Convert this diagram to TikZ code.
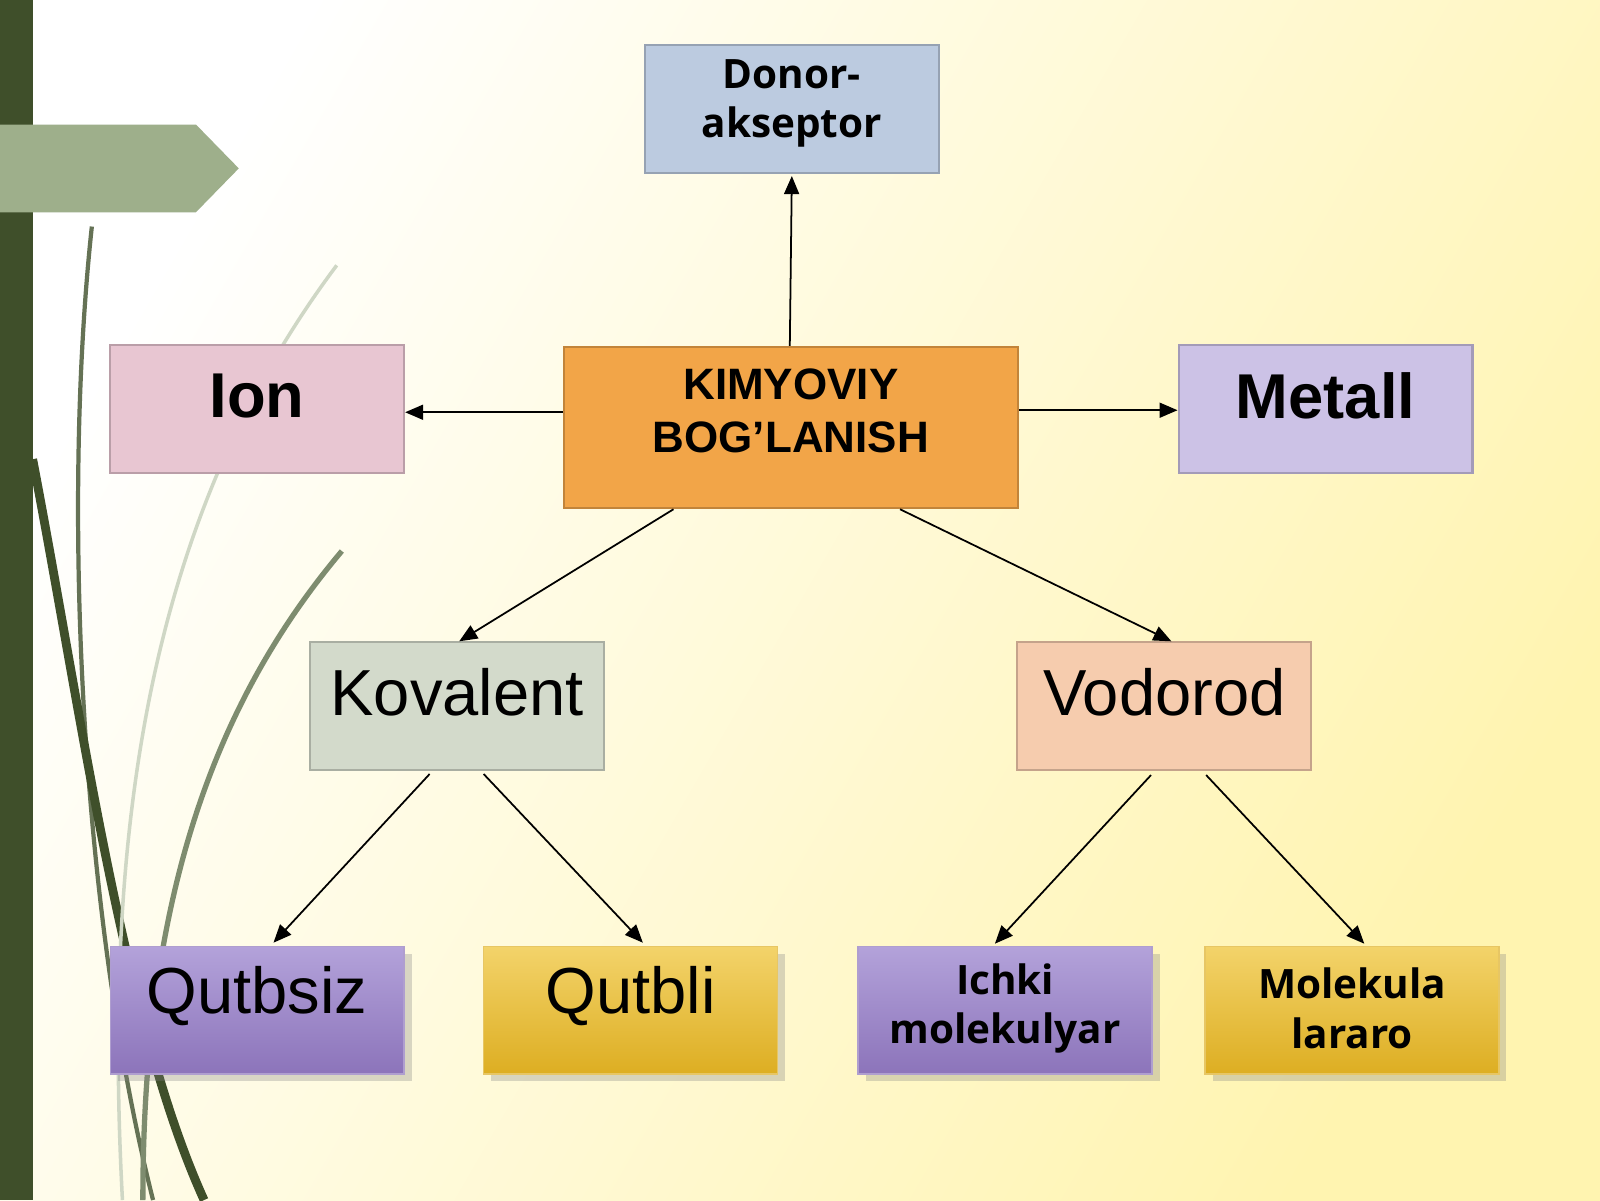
\documentclass[tikz,border=0pt]{standalone}
\usepackage{fontspec}
\setmainfont{Liberation Sans}
\newfontfamily\opensans{Open Sans}
\usetikzlibrary{arrows.meta,shadows,calc}
\definecolor{barGreen}{HTML}{3F4F2A}
\definecolor{tabGreen}{HTML}{9EAF8B}
\definecolor{kimOrange}{HTML}{F2A548}
\definecolor{donorBlue}{HTML}{BCCBE0}
\definecolor{ionPink}{HTML}{E8C6D2}
\definecolor{metLav}{HTML}{CCC2E6}
\definecolor{kovGrey}{HTML}{D3DACB}
\definecolor{vodPeach}{HTML}{F6CCAE}
\definecolor{purpTop}{HTML}{B3A2DA}
\definecolor{purpBot}{HTML}{8C74BA}
\definecolor{goldTop}{HTML}{F3D36A}
\definecolor{goldBot}{HTML}{DDAE22}
\definecolor{bgYellow}{HTML}{FFF4B0}
\begin{document}
\begin{tikzpicture}[x=0.0102cm,y=-0.0102cm,
	box/.style={draw=#1!80!black,line width=0.6pt,minimum width=288*0.0102cm,minimum height=125*0.0102cm,inner sep=0pt},
	purple box/.style={draw=purpBot!70,top color=purpTop,bottom color=purpBot,minimum width=288*0.0102cm,minimum height=125*0.0102cm,drop shadow={opacity=0.3,shadow xshift=0.4ex,shadow yshift=-0.4ex}},
	gold box/.style={draw=goldBot!70,top color=goldTop,bottom color=goldBot,minimum width=288*0.0102cm,minimum height=125*0.0102cm,drop shadow={opacity=0.3,shadow xshift=0.4ex,shadow yshift=-0.4ex}},
	link/.style={-{Triangle[length=1.8mm,width=1.5mm]},line width=0.5pt,black}
]
	% background
	\shade[left color=white,right color=bgYellow,shading angle=60] (0,0) rectangle (1568,1176);
	\useasboundingbox (0,0) rectangle (1568,1176);
	\fill[barGreen] (0,0) rectangle (32,1176);
	\fill[tabGreen] (0,122) -- (192,122) -- (234,165) -- (192,208) -- (0,208) -- cycle;
	\draw[barGreen!80,line width=1.2pt] (90,222) .. controls (60,500) and (80,900) .. (150,1176);
	\draw[barGreen,line width=2.5pt] (32,450) .. controls (80,700) and (120,1000) .. (200,1176);
	\draw[tabGreen!80!black,line width=1.5pt] (335,540) .. controls (200,700) and (140,900) .. (140,1176);
	\draw[tabGreen!50,line width=1pt] (330,260) .. controls (150,500) and (100,800) .. (120,1176);

	% boxes
	\node[box=donorBlue,fill=donorBlue] (donor) at (776,107) {};
	\node[box=kimOrange,fill=kimOrange,minimum width=445*0.0102cm,minimum height=158*0.0102cm] (kim) at (775,419) {};
	\node[box=ionPink,fill=ionPink] (ion) at (252,401) {};
	\node[box=metLav,fill=metLav] (metall) at (1299,401) {};
	\node[box=kovGrey,fill=kovGrey] (kov) at (448,692) {};
	\node[box=vodPeach,fill=vodPeach] (vod) at (1141,692) {};
	\node[purple box] (qutbsiz) at (252,990) {};
	\node[gold box] (qutbli) at (618,990) {};
	\node[purple box] (ichki) at (985,990) {};
	\node[gold box] (molek) at (1325,990) {};

	% texts
	\node[align=center,font=\opensans\bfseries\fontsize{11.5}{14}\selectfont] at (776,101) {Donor-\\akseptor};
	\node[align=center,font=\bfseries\fontsize{12.5}{15}\selectfont] at (775,403) {KIMYOVIY\\BOG’LANISH};
	\node[font=\bfseries\fontsize{18}{22}\selectfont] at (252,388) {Ion};
	\node[font=\bfseries\fontsize{18}{22}\selectfont] at (1299,388) {Metall};
	\node[font=\fontsize{18.5}{22}\selectfont] at (448,678) {Kovalent};
	\node[font=\fontsize{18.5}{22}\selectfont] at (1141,678) {Vodorod};
	\node[font=\fontsize{18.5}{22}\selectfont] at (252,976) {Qutbsiz};
	\node[font=\fontsize{18.5}{22}\selectfont] at (618,976) {Qutbli};
	\node[align=center,font=\opensans\bfseries\fontsize{11.5}{14}\selectfont] at (985,988) {Ichki\\molekulyar};
	\node[align=center,font=\opensans\bfseries\fontsize{11.5}{14}\selectfont] at (1325,988) {Molekula\\lararo};

	% links
	\draw[link] ([xshift=-1*0.0102cm]kim.north) -- ([yshift=-2*0.0102cm]donor.south);
	\draw[link] ([yshift=15*0.0102cm]kim.west) -- ([yshift=-3*0.0102cm]ion.east);
	\draw[link] ([yshift=17*0.0102cm]kim.east) -- ([yshift=-1*0.0102cm]metall.west);
	\draw[link] ([xshift=-115*0.0102cm]kim.south) -- ([xshift=2*0.0102cm]kov.north);
	\draw[link] ([xshift=107*0.0102cm]kim.south) -- ([xshift=7*0.0102cm]vod.north);
	\draw[link] ([xshift=-27*0.0102cm,yshift=-3*0.0102cm]kov.south) -- ([xshift=16*0.0102cm,yshift=3*0.0102cm]qutbsiz.north);
	\draw[link] ([xshift=26*0.0102cm,yshift=-3*0.0102cm]kov.south) -- ([xshift=12*0.0102cm,yshift=3*0.0102cm]qutbli.north);
	\draw[link] ([xshift=-13*0.0102cm,yshift=-4*0.0102cm]vod.south) -- ([xshift=-10*0.0102cm,yshift=2*0.0102cm]ichki.north);
	\draw[link] ([xshift=41*0.0102cm,yshift=-4*0.0102cm]vod.south) -- ([xshift=12*0.0102cm,yshift=2*0.0102cm]molek.north);
\end{tikzpicture}
\end{document}
